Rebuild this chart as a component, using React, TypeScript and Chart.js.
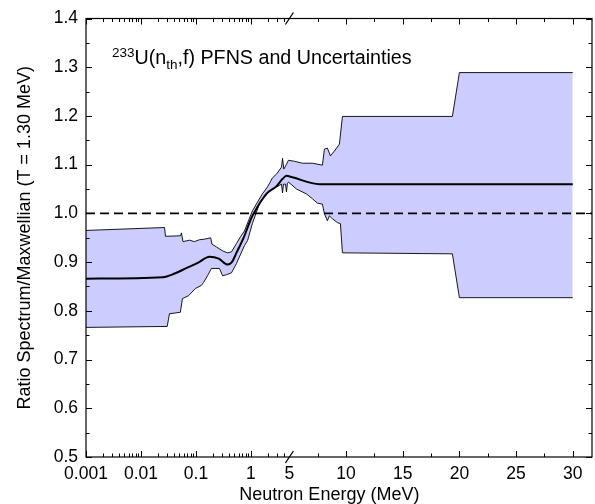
import React, { useEffect, useRef } from 'react';
import { Chart, Scale, registerables } from 'chart.js';

// ---------- axis limits ----------
const X_MIN = 0.001;
const X_BREAK = 5;
const X_MAX = 31.7;
const Y_MIN = 0.5;
const Y_MAX = 1.4;
const LOG_SHARE = 0.402; // share of the axis length given to the log part (0.001 .. 5)

// ---------- tick values ----------
const xTickLabels = [0.001, 0.01, 0.1, 1, 5, 10, 15, 20, 25, 30];
const xMajorTicks = [0.001, 0.01, 0.1, 1, 10, 15, 20, 25, 30];
const xMinorTicks = [
  0.002, 0.003, 0.004, 0.005, 0.006, 0.007, 0.008, 0.009,
  0.02, 0.03, 0.04, 0.05, 0.06, 0.07, 0.08, 0.09,
  0.2, 0.3, 0.4, 0.5, 0.6, 0.7, 0.8, 0.9,
  2, 3, 4,
  7.5, 12.5, 17.5, 22.5, 27.5,
];
const yMajorTicks = [0.5, 0.6, 0.7, 0.8, 0.9, 1.0, 1.1, 1.2, 1.3, 1.4];
const yMinorTicks = [0.55, 0.65, 0.75, 0.85, 0.95, 1.05, 1.15, 1.25, 1.35];

// ---------- data ----------
const centralEnergy = [0.001, 0.025, 0.04, 0.065, 0.11, 0.176, 0.26, 0.375, 0.45, 0.544, 0.76, 0.94, 1.06, 1.25, 1.54, 1.98, 2.93, 3.76, 4.42, 5.26, 7.65, 30];
const centralRatio = [0.866, 0.869, 0.876, 0.887, 0.899, 0.911, 0.907, 0.895, 0.900, 0.919, 0.954, 0.981, 0.995, 1.009, 1.026, 1.042, 1.056, 1.071, 1.077, 1.074, 1.060, 1.060];

const upperEnergy = [0.001, 0.0268, 0.0279, 0.0522, 0.0544, 0.058, 0.0762, 0.0936, 0.116, 0.142, 0.185, 0.195, 0.236, 0.305, 0.375, 0.442, 0.544, 0.644, 0.762, 0.901, 1.06, 1.25, 1.61, 1.99, 2.46, 2.93, 3.59, 3.75, 3.95, 4.25, 4.42, 4.8, 5.44, 6.15, 7.03, 7.91, 8.09, 8.35, 8.62, 8.97, 9.41, 9.68, 19.38, 20.0, 30];
const upperRatio = [0.965, 0.971, 0.953, 0.954, 0.960, 0.942, 0.945, 0.942, 0.946, 0.947, 0.950, 0.937, 0.931, 0.923, 0.919, 0.921, 0.938, 0.952, 0.964, 0.985, 1.005, 1.019, 1.040, 1.054, 1.073, 1.081, 1.095, 1.113, 1.091, 1.097, 1.101, 1.109, 1.107, 1.103, 1.103, 1.099, 1.132, 1.134, 1.118, 1.128, 1.142, 1.199, 1.199, 1.289, 1.289];

const lowerEnergy = [0.001, 0.030, 0.0329, 0.052, 0.0567, 0.073, 0.098, 0.125, 0.137, 0.162, 0.191, 0.267, 0.305, 0.358, 0.442, 0.544, 0.762, 0.865, 1.06, 1.25, 1.42, 1.87, 2.67, 3.59, 3.75, 3.9, 4.25, 4.42, 4.6, 4.85, 5.62, 6.5, 7.03, 7.47, 7.91, 8.09, 8.35, 8.53, 8.79, 9.24, 9.5, 9.68, 19.38, 20.0, 30];
const lowerRatio = [0.766, 0.768, 0.794, 0.797, 0.825, 0.831, 0.846, 0.852, 0.858, 0.872, 0.887, 0.887, 0.872, 0.874, 0.878, 0.897, 0.934, 0.944, 0.979, 1.002, 1.019, 1.040, 1.052, 1.060, 1.042, 1.060, 1.060, 1.044, 1.062, 1.064, 1.050, 1.040, 1.030, 1.021, 1.019, 0.999, 0.985, 0.995, 0.989, 0.981, 0.979, 0.919, 0.917, 0.827, 0.827];

const refEnergy = [X_MIN, X_MAX];
const refRatio = [1.0, 1.0];

const FONT = "'Liberation Sans', Arial, Helvetica, sans-serif";

// ---------- broken log / linear scale ----------
class BrokenLogLinScale extends Scale {
  static id = 'brokenloglin';
  static defaults = {};

  determineDataLimits() {
    (this as any).min = X_MIN;
    (this as any).max = X_MAX;
  }

  buildTicks() {
    return xTickLabels.map((v) => ({ value: v }));
  }

  getLabelForValue(v: number) {
    return String(v);
  }

  _frac(value: number) {
    const lo = Math.log10(X_MIN);
    const br = Math.log10(X_BREAK);
    if (value <= X_BREAK) {
      return ((Math.log10(Math.max(value, 1e-12)) - lo) / (br - lo)) * LOG_SHARE;
    }
    return LOG_SHARE + ((value - X_BREAK) / (X_MAX - X_BREAK)) * (1 - LOG_SHARE);
  }

  getPixelForValue(value: number) {
    return (this as any).getPixelForDecimal(this._frac(value));
  }

  getValueForPixel(pixel: number) {
    const f = (this as any).getDecimalForPixel(pixel);
    const lo = Math.log10(X_MIN);
    const br = Math.log10(X_BREAK);
    if (f <= LOG_SHARE) return Math.pow(10, lo + (f / LOG_SHARE) * (br - lo));
    return X_BREAK + ((f - LOG_SHARE) / (1 - LOG_SHARE)) * (X_MAX - X_BREAK);
  }
}

Chart.register(...registerables, BrokenLogLinScale as any);

const pts = (xs: number[], ys: number[]) => xs.map((x, i) => ({ x, y: ys[i] }));

const decorPlugin = {
  id: 'decor',
  afterDatasetsDraw(chart: any) {
    const { ctx, chartArea, scales } = chart;
    const { left, right, top, bottom } = chartArea;
    const x = scales.x;
    const y = scales.y;
    ctx.save();
    ctx.strokeStyle = '#000';
    ctx.lineWidth = 1.2;
    ctx.strokeRect(left, top, right - left, bottom - top);

    ctx.lineWidth = 1;
    ctx.beginPath();
    const xTick = (v: number, len: number) => {
      const p = Math.round(x.getPixelForValue(v)) + 0.5;
      ctx.moveTo(p, bottom);
      ctx.lineTo(p, bottom - len);
      ctx.moveTo(p, top);
      ctx.lineTo(p, top + len);
    };
    const yTick = (v: number, len: number) => {
      const p = Math.round(y.getPixelForValue(v)) + 0.5;
      ctx.moveTo(left, p);
      ctx.lineTo(left + len, p);
      ctx.moveTo(right, p);
      ctx.lineTo(right - len, p);
    };
    xMajorTicks.forEach((v) => xTick(v, 6));
    xMinorTicks.forEach((v) => xTick(v, 3.5));
    yMajorTicks.forEach((v) => yTick(v, 6));
    yMinorTicks.forEach((v) => yTick(v, 3.5));
    ctx.stroke();

    // axis break marks
    const xb = x.getPixelForValue(X_BREAK);
    ctx.lineWidth = 1.3;
    ctx.beginPath();
    ctx.moveTo(xb - 4, bottom + 6);
    ctx.lineTo(xb + 4, bottom - 6);
    ctx.moveTo(xb - 4, top + 6);
    ctx.lineTo(xb + 4, top - 6);
    ctx.stroke();

    // annotation
    ctx.fillStyle = '#000';
    ctx.textBaseline = 'alphabetic';
    ctx.textAlign = 'left';
    let tx = left + 26;
    const base = top + 45;
    const big = `19.7px ${FONT}`;
    const small = `13.5px ${FONT}`;
    const put = (t: string, f: string, dy: number) => {
      ctx.font = f;
      ctx.fillText(t, tx, base + dy);
      tx += ctx.measureText(t).width;
    };
    put('233', small, -7);
    put('U(n', big, 0);
    put('th', small, 5);
    put(',f) PFNS and Uncertainties', big, 0);

    // x axis title, centred on the 0.001 .. 30 span
    ctx.font = `18px ${FONT}`;
    ctx.textAlign = 'center';
    ctx.textBaseline = 'middle';
    const cx = (x.getPixelForValue(X_MIN) + x.getPixelForValue(30)) / 2;
    ctx.fillText('Neutron Energy (MeV)', cx, bottom + 38);
    ctx.restore();
  },
};

export default function App() {
  const ref = useRef<HTMLCanvasElement>(null);
  useEffect(() => {
    if (!ref.current) return;
    const chart = new Chart(ref.current, {
      type: 'line',
      data: {
        datasets: [
          {
            label: 'PFNS / Maxwellian',
            data: pts(centralEnergy, centralRatio),
            borderColor: '#000',
            borderWidth: 2,
            pointRadius: 0,
            fill: false,
            cubicInterpolationMode: 'monotone',
          },
          {
            label: 'Ratio = 1',
            data: pts(refEnergy, refRatio),
            borderColor: '#000',
            borderWidth: 1.6,
            borderDash: [9, 5],
            pointRadius: 0,
            fill: false,
          },
          {
            label: 'Upper',
            data: pts(upperEnergy, upperRatio),
            borderColor: '#000',
            borderWidth: 0.9,
            pointRadius: 0,
            backgroundColor: '#CCCCFF',
            fill: '+1',
            tension: 0,
          },
          {
            label: 'Lower',
            data: pts(lowerEnergy, lowerRatio),
            borderColor: '#000',
            borderWidth: 0.9,
            pointRadius: 0,
            fill: false,
            tension: 0,
          },
        ],
      },
      plugins: [decorPlugin],
      options: {
        animation: false,
        responsive: false,
        devicePixelRatio: 1,
        layout: { padding: { top: 17, right: 3, left: 0, bottom: 0 } },
        plugins: {
          legend: { display: false },
          tooltip: { enabled: false },
          filler: { drawTime: 'beforeDatasetsDraw' },
        } as any,
        scales: {
          x: {
            type: 'brokenloglin' as any,
            min: X_MIN,
            max: X_MAX,
            grid: { display: false, drawTicks: false },
            border: { display: false },
            ticks: {
              autoSkip: false,
              maxRotation: 0,
              minRotation: 0,
              padding: 7,
              color: '#000',
              font: { family: FONT, size: 17.5 },
              callback: (v: any) => String(v),
            },
            afterFit: (s: any) => {
              s.height = 47;
            },
          } as any,
          y: {
            type: 'linear',
            min: Y_MIN,
            max: Y_MAX,
            grid: { display: false, drawTicks: false },
            border: { display: false },
            ticks: {
              stepSize: 0.1,
              padding: 8,
              color: '#000',
              font: { family: FONT, size: 17.5 },
              callback: (v: any) => Number(v).toFixed(1),
            },
            title: {
              display: true,
              text: 'Ratio Spectrum/Maxwellian (T = 1.30 MeV)',
              color: '#000',
              font: { family: FONT, size: 18 },
              padding: { top: 14, bottom: 0 },
            },
            afterFit: (s: any) => {
              s.width = 86;
            },
          },
        },
      },
    });
    return () => chart.destroy();
  }, []);
  return (
    <div style={{ position: 'absolute', left: 0, top: 0, width: 595, height: 504, background: '#fff' }}>
      <canvas ref={ref} width={595} height={504} style={{ display: 'block' }} />
    </div>
  );
}
